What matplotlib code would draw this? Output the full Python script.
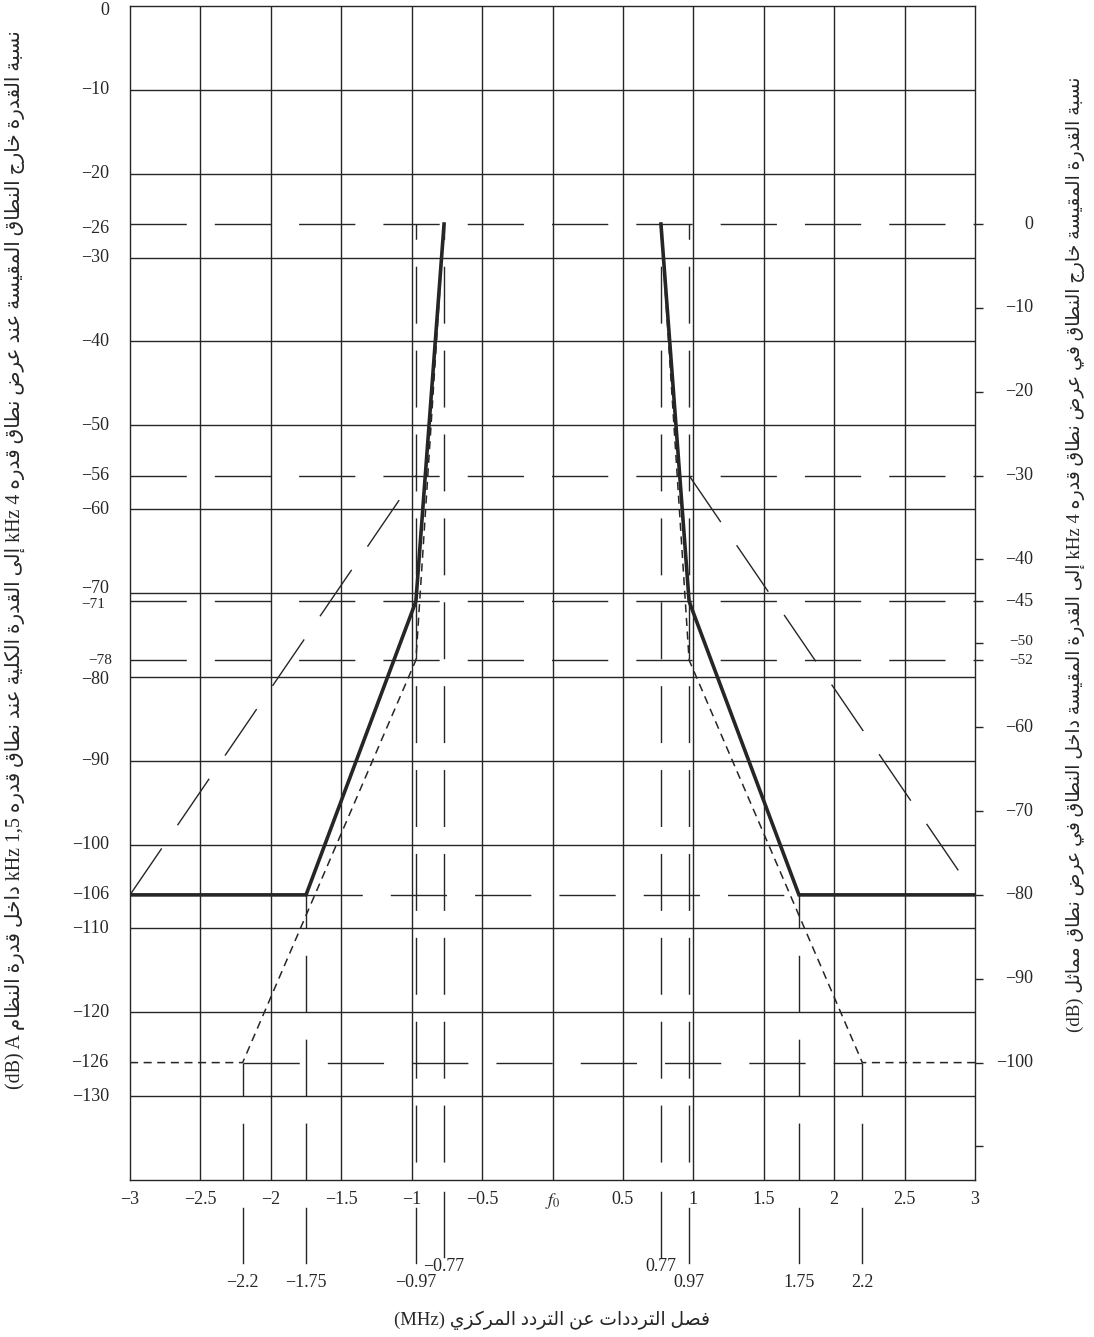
import matplotlib
matplotlib.use("Agg")
import matplotlib.pyplot as plt
import matplotlib.transforms as mtransforms

plt.rcParams["font.family"] = ["Liberation Serif", "DejaVu Sans"]
plt.rcParams["mathtext.fontset"] = "stix"
plt.rcParams["lines.scale_dashes"] = False

INK = "#262626"

# ---- data -------------------------------------------------------------
x_ticks = [-3, -2.5, -2, -1.5, -1, -0.5, 0, 0.5, 1, 1.5, 2, 2.5, 3]
x_tick_labels = ["−3", "−2.5", "−2", "−1.5", "−1", "−0.5", "$f_0$",
                 "0.5", "1", "1.5", "2", "2.5", "3"]
grid_db = [-10, -20, -30, -40, -50, -60, -70, -80, -90, -100, -110, -120, -130]

left_labels = [0, -10, -20, -26, -30, -40, -50, -56, -60, -70, -80,
               -90, -100, -106, -110, -120, -126, -130]
left_small = [-71, -78]
right_shift = 26  # right scale = left scale + 26 dB
right_labels = [0, -10, -20, -30, -40, -45, -50, -52, -60, -70, -80, -90, -100]
right_blank = [-110]

# thick mask (system A)
thick_left_f = [-3, -1.75, -0.97, -0.77]
thick_left_db = [-106, -106, -71, -26]
thick_right_f = [0.77, 0.97, 1.75, 3]
thick_right_db = [-26, -71, -106, -106]

# short-dash mask
dot_left_f = [-3, -2.2, -0.97, -0.77]
dot_left_db = [-126, -126, -78, -26]
dot_right_f = [0.77, 0.97, 2.2, 3]
dot_right_db = [-26, -78, -126, -126]

# long-dash slopes
slope_left_f = [-3, -0.97]
slope_left_db = [-106, -56]
slope_right_f = [0.97, 3]
slope_right_db = [-56, -106]

# horizontal reference levels and their span
level_db = [-26, -56, -71, -78, -106, -126]
level_from = [-3, -3, -3, -3, -1.75, -2.2]
level_to = [3, 3, 3, 3, 1.75, 2.2]

# vertical frequency markers and the level they start from
marker_f = [-2.2, -1.75, -0.97, -0.77, 0.77, 0.97, 1.75, 2.2]
marker_top = [-126, -106, -26, -26, -26, -26, -106, -126]
marker_labels = ["−2.2", "−1.75", "−0.97", "−0.77", "0.77", "0.97", "1.75", "2.2"]

ylabel_left = ("نسبة القدرة خارج النطاق المقيسة عند عرض نطاق قدره 4 kHz إلى القدرة "
               "الكلية عند نطاق قدره 1,5 kHz داخل قدرة النظام A (dB)")
ylabel_right = ("نسبة القدرة المقيسة خارج النطاق في عرض نطاق قدره 4 kHz إلى القدرة "
                "المقيسة داخل النطاق في عرض نطاق مماثل (dB)")
xlabel = "فصل الترددات عن التردد المركزي (MHz)"

# ---- simple Arabic shaping (no shaping engine in matplotlib) ----------
AR = {
    "ا": (0xFE8D, False), "أ": (0xFE83, False), "إ": (0xFE87, False), "آ": (0xFE81, False),
    "ب": (0xFE8F, True), "ة": (0xFE93, False), "ت": (0xFE95, True), "ث": (0xFE99, True),
    "ج": (0xFE9D, True), "ح": (0xFEA1, True), "خ": (0xFEA5, True), "د": (0xFEA9, False),
    "ذ": (0xFEAB, False), "ر": (0xFEAD, False), "ز": (0xFEAF, False), "س": (0xFEB1, True),
    "ش": (0xFEB5, True), "ص": (0xFEB9, True), "ض": (0xFEBD, True), "ط": (0xFEC1, True),
    "ظ": (0xFEC5, True), "ع": (0xFEC9, True), "غ": (0xFECD, True), "ف": (0xFED1, True),
    "ق": (0xFED5, True), "ك": (0xFED9, True), "ل": (0xFEDD, True), "م": (0xFEE1, True),
    "ن": (0xFEE5, True), "ه": (0xFEE9, True), "و": (0xFEED, False), "ى": (0xFEEF, False),
    "ي": (0xFEF1, True),
}
LAM_ALEF = {"ا": 0xFEFB, "أ": 0xFEF7, "إ": 0xFEF9, "آ": 0xFEF5}


def shape_word(word):
    glyphs = []
    i = 0
    while i < len(word):
        c = word[i]
        if c == "ل" and i + 1 < len(word) and word[i + 1] in LAM_ALEF:
            glyphs.append((LAM_ALEF[word[i + 1]], False))
            i += 2
            continue
        glyphs.append(AR.get(c, (c, None)))
        i += 1
    out = []
    for k, (base, dual) in enumerate(glyphs):
        if dual is None:
            out.append(base)
            continue
        jp = k > 0 and glyphs[k - 1][1] is True
        jn = dual and k + 1 < len(glyphs) and glyphs[k + 1][1] is not None
        code = base + (3 if jp and jn else 1 if jp else 2 if jn else 0)
        out.append(chr(code))
    return "".join(reversed(out))


def rtl(text):
    words = text.split(" ")[::-1]
    return " ".join(shape_word(w) if any(ch in AR for ch in w) else w for w in words)


# ---- figure -----------------------------------------------------------
fig = plt.figure(figsize=(10.94, 13.37), dpi=100)
ax = fig.add_axes([130 / 1094, 1 - 1180 / 1337, 845 / 1094, 1174 / 1337])
ax.set_xlim(-3, 3)
ax.set_ylim(-140, 0)
for s in ax.spines.values():
    s.set_color(INK)
    s.set_linewidth(1.0)

thin = dict(color=INK, lw=1.0)
LONG = (0, (40.5, 20.2))
SHORT = (0, (5.8, 4.0))

for v in x_ticks[1:-1]:
    ax.axvline(v, **thin)
for d in grid_db:
    ax.axhline(d, **thin)

# horizontal long-dash levels
for d, a, b in zip(level_db, level_from, level_to):
    ax.plot([a, b], [d, d], ls=LONG, **thin)

# vertical markers, long dash down to the bottom
for f, top in zip(marker_f, marker_top):
    off = 30 if top == -26 else 17
    ax.plot([f, f], [top, -140], ls=(off, (41, 19.4)), **thin)

# long-dash slopes
ax.plot(slope_left_f, slope_left_db, ls=LONG, **thin)
ax.plot(slope_right_f, slope_right_db, ls=LONG, **thin)

# short-dash mask
ax.plot(dot_left_f, dot_left_db, ls=SHORT, color=INK, lw=1.1)
ax.plot(dot_right_f, dot_right_db, ls=SHORT, color=INK, lw=1.1)

# thick mask
ax.plot(thick_left_f, thick_left_db, color=INK, lw=2.6, solid_joinstyle="miter")
ax.plot(thick_right_f, thick_right_db, color=INK, lw=2.6, solid_joinstyle="miter")

# x ticks
ax.set_xticks(x_ticks, x_tick_labels)
ax.tick_params(axis="x", length=0, pad=8, labelsize=13, colors=INK)

# right ticks (right scale), no left ticks
ax.set_yticks([v - right_shift for v in right_labels + right_blank])
ax.tick_params(axis="y", left=False, right=True, labelleft=False, labelright=False,
               direction="out", length=5.5, width=1.0, color=INK)

# left labels
yt = ax.get_yaxis_transform()
nudge = {0: -3, -26: -3, -70: 3.5, -80: -2, -71: -2.5}
for v in left_labels:
    tr = mtransforms.offset_copy(yt, fig=fig, x=0, y=nudge.get(v, 0), units="points")
    ax.text(-0.025, v, str(v).replace("-", "−"), transform=tr, ha="right",
            va="center", fontsize=13, color=INK)
for v in left_small:
    dx = -3 if v == -71 else 2
    tr = mtransforms.offset_copy(yt, fig=fig, x=dx, y=nudge.get(v, 0), units="points")
    ax.text(-0.025, v, str(v).replace("-", "−"), transform=tr, ha="right",
            va="center", fontsize=11, color=INK)

# right labels
rnudge = {-50: 1.5}
for v in right_labels:
    tr = mtransforms.offset_copy(yt, fig=fig, x=0, y=rnudge.get(v, 0), units="points")
    ax.text(1.0686, v - right_shift, str(v).replace("-", "−"), transform=tr,
            ha="right", va="center", fontsize=11 if v in (-50, -52) else 13, color=INK)

# marker extensions below the axis and their labels
bt = ax.get_xaxis_transform()
for f, lab in zip(marker_f, marker_labels):
    raised = abs(f) == 0.77
    y0, y1 = (-0.0102, -0.0656) if raised else (-0.0238, -0.0707)
    ax.plot([f, f], [y0, y1], transform=bt, clip_on=False, **thin)
    ax.text(f, -0.074 if raised else -0.0877, lab, transform=bt, ha="center",
            va="center", fontsize=13, color=INK)

# axis titles
fig.text(15 / 1094, 1 - 560 / 1337, rtl(ylabel_left), rotation=90, ha="center",
         va="center", fontsize=14.4, color=INK)
fig.text(1075 / 1094, 1 - 554 / 1337, rtl(ylabel_right), rotation=90, ha="center",
         va="center", fontsize=13.6, color=INK)
fig.text(552 / 1094, 1 - 1320 / 1337, rtl(xlabel), ha="center", va="center",
         fontsize=13.5, color=INK)

fig.savefig("out.png", dpi=100)
